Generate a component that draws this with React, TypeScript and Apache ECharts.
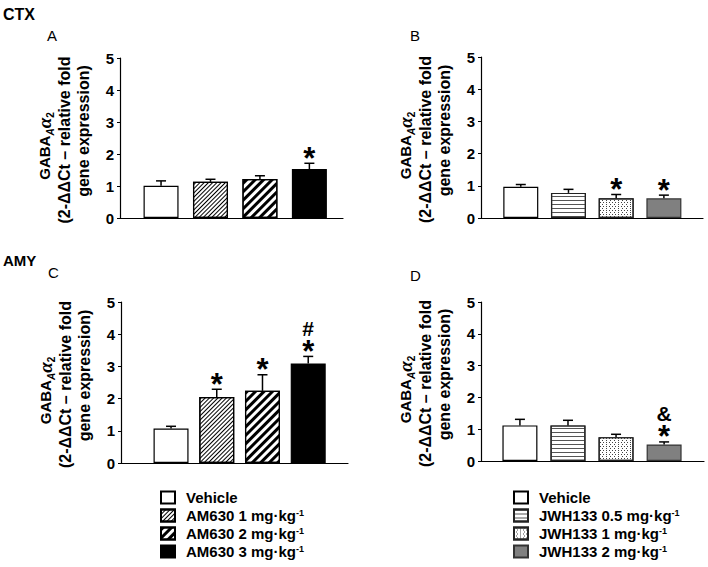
import React, { useEffect, useRef } from 'react';
import * as echarts from 'echarts';

// ---------- data ----------
const AM_NAMES = ['Vehicle', 'AM630 1 mg·kg-1', 'AM630 2 mg·kg-1', 'AM630 3 mg·kg-1'];
const JWH_NAMES = ['Vehicle', 'JWH133 0.5 mg·kg-1', 'JWH133 1 mg·kg-1', 'JWH133 2 mg·kg-1'];
const BAR_POSITIONS = [1, 2, 3, 4];

const ctxAmMean = [1.01, 1.13, 1.22, 1.53];
const ctxAmSem = [0.15, 0.08, 0.1, 0.18];
const ctxAmMarks = ['', '', '', '*'];

const ctxJwhMean = [0.97, 0.78, 0.61, 0.61];
const ctxJwhSem = [0.07, 0.11, 0.12, 0.1];
const ctxJwhMarks = ['', '', '*', '*'];

const amyAmMean = [1.07, 2.05, 2.24, 3.09];
const amyAmSem = [0.07, 0.24, 0.5, 0.22];
const amyAmMarks = ['', '*', '*', '#*'];

const amyJwhMean = [1.12, 1.12, 0.75, 0.52];
const amyJwhSem = [0.19, 0.16, 0.09, 0.08];
const amyJwhMarks = ['', '', '', '&*'];

const Y_MIN = 0;
const Y_MAX = 5;
const Y_INTERVAL = 1;

const FONT = '"Liberation Sans", Arial, sans-serif';

const STYLES: Record<string, any> = {
  Vehicle: { color: '#ffffff', borderColor: '#000', borderWidth: 1.2 },
  'AM630 1 mg·kg-1': {
    color: '#ffffff', borderColor: '#000', borderWidth: 1.2,
    decal: { symbol: 'rect', symbolSize: 1, dashArrayX: [1, 0], dashArrayY: [1, 1.4], rotation: -Math.PI / 4, color: '#000' },
  },
  'AM630 2 mg·kg-1': {
    color: '#ffffff', borderColor: '#000', borderWidth: 1.2,
    decal: { symbol: 'rect', symbolSize: 1, dashArrayX: [1, 0], dashArrayY: [2.2, 3], rotation: -Math.PI / 4, color: '#000' },
  },
  'AM630 3 mg·kg-1': { color: '#000000', borderColor: '#000', borderWidth: 1.2 },
  'JWH133 0.5 mg·kg-1': {
    color: '#ffffff', borderColor: '#222', borderWidth: 1.2,
    decal: { symbol: 'rect', symbolSize: 1, dashArrayX: [1, 0], dashArrayY: [1, 3], rotation: 0, color: '#555' },
  },
  'JWH133 1 mg·kg-1': {
    color: '#ffffff', borderColor: '#222', borderWidth: 1.2,
    decal: { symbol: 'rect', symbolSize: 1, dashArrayX: [[1, 1.5], [0, 1.2, 1, 0.3]], dashArrayY: [1, 0.8], rotation: 0, color: '#444' },
  },
  'JWH133 2 mg·kg-1': { color: '#808080', borderColor: '#333', borderWidth: 1.2 },
};

const PANELS = [
  { grid: { left: 120, top: 58, width: 223, height: 160 }, xMin: 0.17, xMax: 4.68, names: AM_NAMES, mean: ctxAmMean, sem: ctxAmSem, marks: ctxAmMarks },
  { grid: { left: 481, top: 57, width: 222, height: 161 }, xMin: 0.166, xMax: 4.82, names: JWH_NAMES, mean: ctxJwhMean, sem: ctxJwhSem, marks: ctxJwhMarks },
  { grid: { left: 121, top: 302, width: 227, height: 161 }, xMin: -0.094, xMax: 4.87, names: AM_NAMES, mean: amyAmMean, sem: amyAmSem, marks: amyAmMarks },
  { grid: { left: 481, top: 302, width: 223, height: 159 }, xMin: 0.19, xMax: 4.83, names: JWH_NAMES, mean: amyJwhMean, sem: amyJwhSem, marks: amyJwhMarks },
];

const PANEL_LABELS = [
  { text: 'CTX', x: 3, y: 15, size: 16, bold: true },
  { text: 'A', x: 47, y: 37, size: 15, bold: false },
  { text: 'B', x: 410, y: 37, size: 15, bold: false },
  { text: 'AMY', x: 3, y: 262, size: 15, bold: true },
  { text: 'C', x: 48, y: 274, size: 15, bold: false },
  { text: 'D', x: 410, y: 277, size: 15, bold: false },
];

const Y_NAME = '{g|GABA}{s|A}{al|α}{s2|2}\n{l2|(2-ΔΔCt – relative fold}\n{l3|gene expression)}';

function buildOption() {
  const grid: any[] = [];
  const xAxis: any[] = [];
  const yAxis: any[] = [];
  const series: any[] = [];

  const base = { fontWeight: 'bold', fontFamily: FONT, color: '#000' };

  PANELS.forEach((p, i) => {
    grid.push({ ...p.grid, containLabel: false });
    xAxis.push({
      gridIndex: i, type: 'value', min: p.xMin, max: p.xMax,
      axisLine: { show: true, onZero: false, lineStyle: { color: '#000', width: 1.2 } },
      axisTick: { show: false }, axisLabel: { show: false }, splitLine: { show: false },
    });
    yAxis.push({
      gridIndex: i, type: 'value', min: Y_MIN, max: Y_MAX, interval: Y_INTERVAL,
      axisLine: { show: true, onZero: false, lineStyle: { color: '#000', width: 1.2 } },
      axisTick: { show: true, length: 3, lineStyle: { color: '#000' } },
      splitLine: { show: false },
      axisLabel: { color: '#000', fontSize: 15, fontWeight: 'bold', fontFamily: FONT, margin: 6 },
      name: Y_NAME, nameLocation: 'middle', nameRotate: 90, nameGap: 27,
      nameTextStyle: {
        color: '#000', fontSize: 16, fontWeight: 'bold', fontFamily: FONT, lineHeight: 19,
        rich: {
          g: { ...base, fontSize: 15, lineHeight: 21 },
          s: { fontSize: 10, fontStyle: 'italic', fontFamily: FONT, color: '#000', verticalAlign: 'bottom', lineHeight: 21 },
          al: { fontSize: 19, fontStyle: 'italic', fontWeight: 'bold', fontFamily: '"Liberation Serif", "Times New Roman", serif', color: '#000', lineHeight: 21 },
          s2: { fontSize: 10, fontFamily: FONT, color: '#000', verticalAlign: 'bottom', lineHeight: 21, padding: [0, 16, 0, 0] },
          l2: { ...base, fontSize: 16, lineHeight: 19, padding: [0, 4, 0, 0] },
          l3: { ...base, fontSize: 16, lineHeight: 19, padding: [0, 0, 0, 14] },
        },
      },
    });
    p.names.forEach((name, k) => {
      series.push({
        type: 'bar', name, xAxisIndex: i, yAxisIndex: i,
        data: [[BAR_POSITIONS[k], p.mean[k]]],
        barWidth: 35, barGap: '-100%',
        itemStyle: STYLES[name],
        emphasis: { disabled: true },
      });
    });
    const marks = p.marks;
    series.push({
      type: 'custom', xAxisIndex: i, yAxisIndex: i, z: 5,
      data: BAR_POSITIONS.map((x, k) => [x, p.mean[k], p.mean[k] + p.sem[k]]),
      encode: { x: 0, y: [1, 2] },
      renderItem: (params: any, api: any) => {
        const x = api.value(0);
        const p0 = api.coord([x, api.value(1)]);
        const p1 = api.coord([x, api.value(2)]);
        const children: any[] = [
          { type: 'line', shape: { x1: p0[0], y1: p0[1], x2: p1[0], y2: p1[1] }, style: { stroke: '#000', lineWidth: 1.5 } },
          { type: 'line', shape: { x1: p1[0] - 5, y1: p1[1], x2: p1[0] + 5, y2: p1[1] }, style: { stroke: '#000', lineWidth: 1.5 } },
        ];
        const m = marks[params.dataIndex];
        const extra = m.replace('*', '');
        if (m.includes('*')) {
          children.push({ type: 'text', x: p1[0], y: p1[1] - 5, style: { text: '*', fontSize: 31, fontWeight: 'bold', fontFamily: FONT, fill: '#000', align: 'center', verticalAlign: 'middle' } });
        }
        if (extra) {
          children.push({ type: 'text', x: p1[0], y: p1[1] - 28, style: { text: extra, fontSize: 21, fontWeight: 'bold', fontFamily: FONT, fill: '#000', align: 'center', verticalAlign: 'middle' } });
        }
        return { type: 'group', children };
      },
    });
  });

  const legendText = {
    color: '#000', fontSize: 15, fontWeight: 'bold', fontFamily: FONT, padding: [0, 0, 0, 6],
    rich: { sup: { fontSize: 9, fontWeight: 'bold', fontFamily: FONT, color: '#000', verticalAlign: 'top' } },
  };
  const legendFormatter = (name: string) => name.endsWith('-1') ? name.slice(0, -2) + '{sup|-1}' : name;
  const legendBase = { orient: 'vertical', padding: 0, itemWidth: 14, itemHeight: 12, itemGap: 3, icon: 'rect', selectedMode: false, textStyle: legendText, formatter: legendFormatter, top: 490, height: 150 };

  return {
    animation: false,
    backgroundColor: '#ffffff',
    grid, xAxis, yAxis, series,
    legend: [
      { ...legendBase, data: AM_NAMES, left: 160 },
      { ...legendBase, data: JWH_NAMES, left: 513 },
    ],
    graphic: PANEL_LABELS.map((l) => ({
      type: 'text', left: l.x, top: l.y - 9,
      style: { text: l.text, fontSize: l.size, fontWeight: l.bold ? 'bold' : 'normal', fontFamily: FONT, fill: '#000' },
    })),
  };
}

export default function App() {
  const ref = useRef<HTMLDivElement>(null);
  useEffect(() => {
    if (!ref.current) return;
    const chart = echarts.init(ref.current, undefined, { renderer: 'svg' });
    chart.setOption(buildOption() as any);
    return () => chart.dispose();
  }, []);
  return <div ref={ref} style={{ position: 'absolute', left: 0, top: 0, width: 708, height: 567 }} />;
}
